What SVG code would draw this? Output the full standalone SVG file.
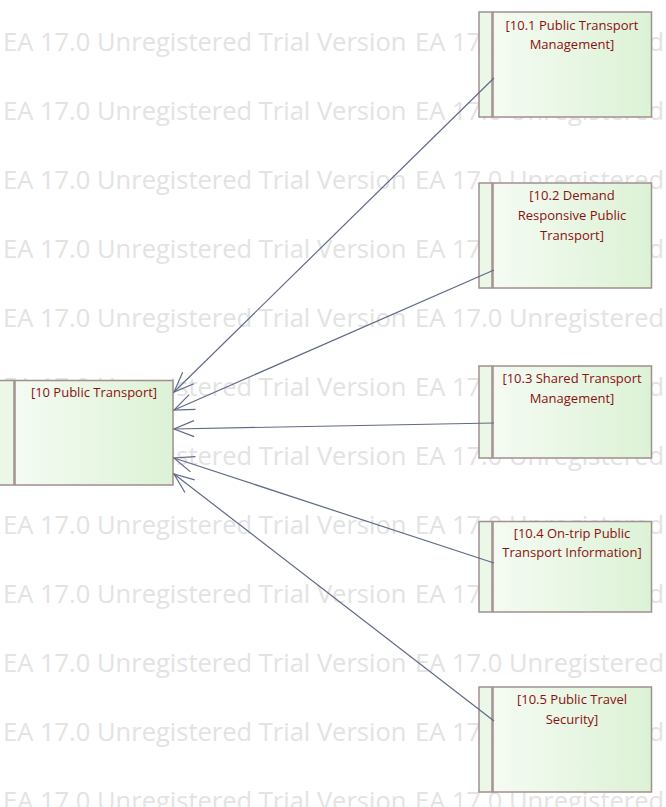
<svg xmlns="http://www.w3.org/2000/svg" width="666" height="807" viewBox="0 0 666 807">
<style>
.wm{font-family:"Open Sans","Noto Sans",sans-serif;font-size:25.5px;fill:#e3e3e3}
.box{fill:url(#g);stroke:#a28e8e;stroke-width:1.5}
.strip{fill:#ebf7e7;stroke:#a28e8e;stroke-width:1.5}
.lbl{font-family:"Open Sans","Noto Sans",sans-serif;font-size:13px;fill:#8b1010;text-anchor:middle}
.cn{stroke:#5f6a88;stroke-width:1.2;fill:none;marker-end:url(#arr)}
</style>
<defs>
<linearGradient id="g" x1="0" y1="0" x2="1" y2="0">
<stop offset="0" stop-color="#f5fbf3"/>
<stop offset="1" stop-color="#dcf2d5"/>
</linearGradient>
<marker id="arr" markerUnits="userSpaceOnUse" viewBox="-22 -10 24 20" refX="0" refY="0" markerWidth="24" markerHeight="20" orient="auto">
<path d="M-20,-8 L0,0 L-20,8" fill="none" stroke="#5f6a88" stroke-width="1.2"/>
</marker>
</defs>
<rect width="666" height="807" fill="#ffffff"/>
<g id="watermark">
<text class="wm" y="51"><tspan x="3">EA 17.0 Unregistered Trial Version</tspan><tspan x="415">EA 17.0 Unregistered</tspan></text>
<text class="wm" y="120"><tspan x="3">EA 17.0 Unregistered Trial Version</tspan><tspan x="415">EA 17.0 Unregistered</tspan></text>
<text class="wm" y="189"><tspan x="3">EA 17.0 Unregistered Trial Version</tspan><tspan x="415">EA 17.0 Unregistered</tspan></text>
<text class="wm" y="258"><tspan x="3">EA 17.0 Unregistered Trial Version</tspan><tspan x="415">EA 17.0 Unregistered</tspan></text>
<text class="wm" y="327"><tspan x="3">EA 17.0 Unregistered Trial Version</tspan><tspan x="415">EA 17.0 Unregistered</tspan></text>
<text class="wm" y="396"><tspan x="3">EA 17.0 Unregistered Trial Version</tspan><tspan x="415">EA 17.0 Unregistered</tspan></text>
<text class="wm" y="465"><tspan x="3">EA 17.0 Unregistered Trial Version</tspan><tspan x="415">EA 17.0 Unregistered</tspan></text>
<text class="wm" y="534"><tspan x="3">EA 17.0 Unregistered Trial Version</tspan><tspan x="415">EA 17.0 Unregistered</tspan></text>
<text class="wm" y="603"><tspan x="3">EA 17.0 Unregistered Trial Version</tspan><tspan x="415">EA 17.0 Unregistered</tspan></text>
<text class="wm" y="672"><tspan x="3">EA 17.0 Unregistered Trial Version</tspan><tspan x="415">EA 17.0 Unregistered</tspan></text>
<text class="wm" y="741"><tspan x="3">EA 17.0 Unregistered Trial Version</tspan><tspan x="415">EA 17.0 Unregistered</tspan></text>
<text class="wm" y="810"><tspan x="3">EA 17.0 Unregistered Trial Version</tspan><tspan x="415">EA 17.0 Unregistered</tspan></text>
</g>
<g id="n10">
<rect class="strip" x="-2" y="380.5" width="16" height="104.5"/>
<rect class="box" x="15" y="380.5" width="158" height="104.5"/>
<text class="lbl" x="94" y="397">[10 Public Transport]</text>
</g>
<g id="n10_1">
<rect class="strip" x="479" y="12" width="13" height="105"/>
<rect class="box" x="493" y="12" width="158.5" height="105"/>
<text class="lbl" x="572" y="30">[10.1 Public Transport</text>
<text class="lbl" x="572" y="49">Management]</text>
</g>
<g id="n10_2">
<rect class="strip" x="479" y="183" width="13" height="105"/>
<rect class="box" x="493" y="183" width="158.5" height="105"/>
<text class="lbl" x="572" y="200">[10.2 Demand</text>
<text class="lbl" x="572" y="220">Responsive Public</text>
<text class="lbl" x="572" y="240">Transport]</text>
</g>
<g id="n10_3">
<rect class="strip" x="479" y="366" width="13" height="92"/>
<rect class="box" x="493" y="366" width="158.5" height="92"/>
<text class="lbl" x="572" y="383">[10.3 Shared Transport</text>
<text class="lbl" x="572" y="403">Management]</text>
</g>
<g id="n10_4">
<rect class="strip" x="479" y="521.5" width="13" height="90.5"/>
<rect class="box" x="493" y="521.5" width="158.5" height="90.5"/>
<text class="lbl" x="572" y="538">[10.4 On-trip Public</text>
<text class="lbl" x="572" y="557">Transport Information]</text>
</g>
<g id="n10_5">
<rect class="strip" x="479" y="687" width="13" height="105"/>
<rect class="box" x="493" y="687" width="158.5" height="105"/>
<text class="lbl" x="572" y="704">[10.5 Public Travel</text>
<text class="lbl" x="572" y="724">Security]</text>
</g>
<g id="connectors">
<line class="cn" x1="494" y1="78" x2="174" y2="392"/>
<line class="cn" x1="494" y1="270" x2="174" y2="410"/>
<line class="cn" x1="494" y1="423" x2="174" y2="429"/>
<line class="cn" x1="494" y1="563" x2="174" y2="458"/>
<line class="cn" x1="494" y1="721" x2="174" y2="474"/>
</g>
</svg>
